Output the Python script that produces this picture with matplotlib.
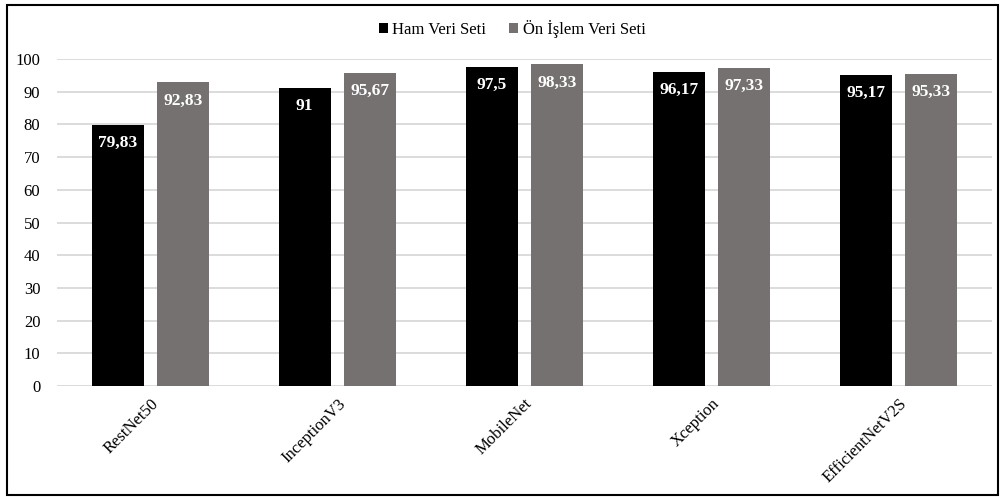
import matplotlib
matplotlib.use("Agg")
import matplotlib.pyplot as plt
from matplotlib.patches import Rectangle
import numpy as np

# veri
models = ["RestNet50", "InceptionV3", "MobileNet", "Xception", "EfficientNetV2S"]
ham = [79.83, 91, 97.5, 96.17, 95.17]
on_islem = [92.83, 95.67, 98.33, 97.33, 95.33]
ham_labels = ["79,83", "91", "97,5", "96,17", "95,17"]
on_labels = ["92,83", "95,67", "98,33", "97,33", "95,33"]
yticks = list(range(0, 101, 10))

plt.rcParams['font.family'] = ['Liberation Serif', 'DejaVu Serif']

fig = plt.figure(figsize=(10.01, 4.97), dpi=100)
ax = fig.add_axes([0.0569, 0.2233, 0.991 - 0.0569, 0.8813 - 0.2233])

x = np.arange(len(models))
w = 0.278
off = 0.176
b1 = ax.bar(x - off, ham, w, color='#000000', label='Ham Veri Seti', zorder=3)
b2 = ax.bar(x + off, on_islem, w, color='#767171', label='Ön İşlem Veri Seti', zorder=3)

# bar ustu etiketler
for bars, labs in ((b1, ham_labels), (b2, on_labels)):
    for r, t in zip(bars, labs):
        ax.annotate(t, (r.get_x() + r.get_width() / 2, r.get_height()),
                    xytext=(0, -18), textcoords='offset pixels',
                    ha='center', va='center', color='white',
                    fontsize=12.5, fontweight='bold', zorder=4)

ax.set_xlim(-0.5, len(models) - 0.5)
ax.set_ylim(0, 100)
ax.set_yticks(yticks)
ax.set_xticks(x)
ax.set_xticklabels(models, rotation=45, ha='right', rotation_mode='anchor')
ax.tick_params(axis='both', length=0, labelsize=12)
ax.tick_params(axis='y', pad=12)
ax.tick_params(axis='x', pad=7)
ax.yaxis.grid(True, color='#d9d9d9', linewidth=1.3, zorder=0)
ax.set_axisbelow(True)
for s in ax.spines.values():
    s.set_visible(False)

fig.legend(loc='center', bbox_to_anchor=(512 / 1001, 1 - 29 / 497), ncol=2,
           frameon=False, fontsize=12, handlelength=0.55, handleheight=0.55,
           handletextpad=0.25, columnspacing=1.4)

# cerceve
fig.patches.append(Rectangle((7 / 1001, 1 - 495 / 497), 991 / 1001, 490 / 497,
                             transform=fig.transFigure, fill=False,
                             edgecolor='black', linewidth=1.5))

fig.savefig("out.png", dpi=100)
